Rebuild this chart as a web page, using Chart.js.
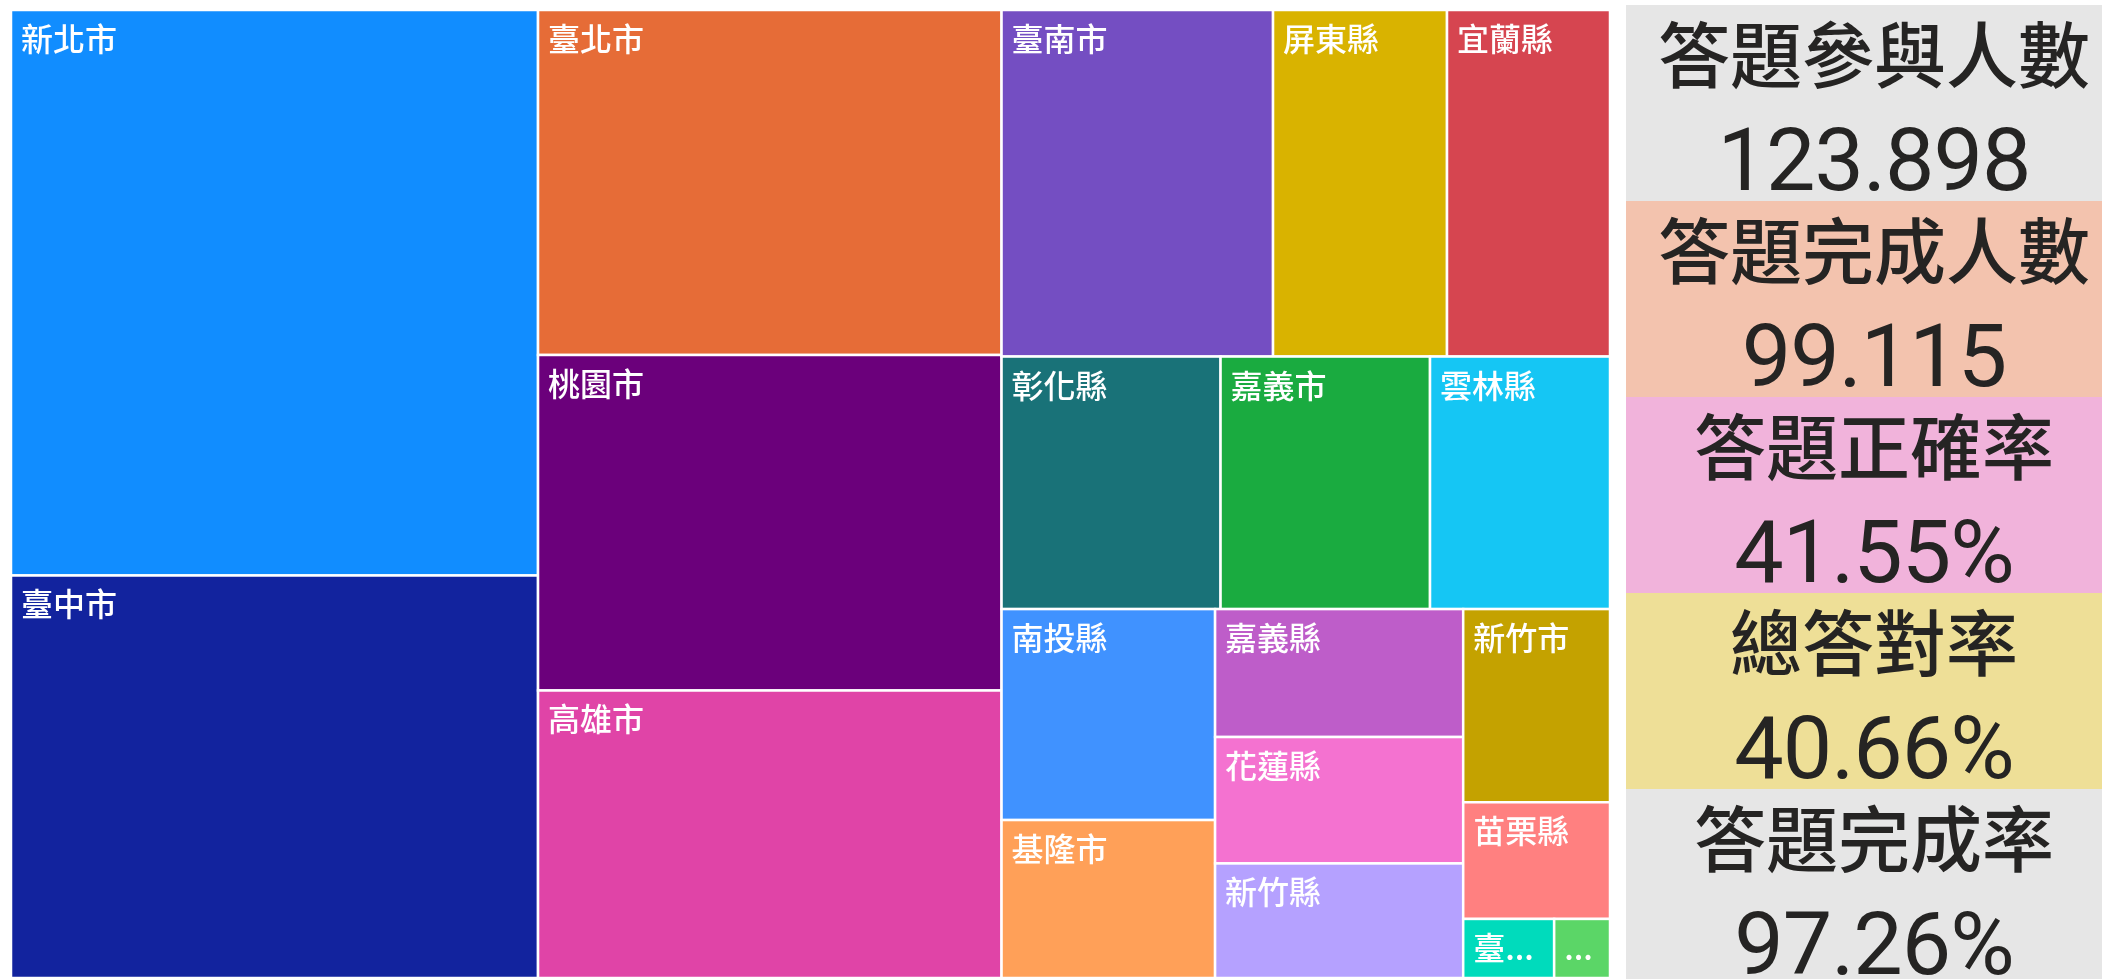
<!DOCTYPE html>
<html>
<head>
<meta charset="utf-8">
<script src="https://cdn.jsdelivr.net/npm/chart.js@4.4.1/dist/chart.umd.min.js"></script>
<style>
  html, body { margin: 0; padding: 0; background: #fff; width: 2102px; height: 979px; overflow: hidden; }
  #treeBox { position: absolute; left: 0; top: 0; width: 1620px; height: 979px; }
  .card { position: absolute; left: 1626px; width: 496px; height: 196px; color: #252423; text-align: center; }
  .card .lbl { position: absolute; left: 0; right: 0; top: 10px; font: 500 72px "Noto Sans CJK TC"; line-height: 72px; white-space: nowrap; }
  .card .val { position: absolute; left: 0; right: 0; top: 111px; font: 88px Roboto; line-height: 88px; white-space: nowrap; letter-spacing: -1px; }
</style>
</head>
<body>
<div id="treeBox"><canvas id="treeChart"></canvas></div>
<div id="cards"></div>
<script>
// treemap data: participants per county/city
const counties = ['新北市', '臺中市', '臺北市', '桃園市', '高雄市', '臺南市', '屏東縣', '宜蘭縣', '彰化縣', '嘉義市',
                  '雲林縣', '南投縣', '基隆市', '嘉義縣', '花蓮縣', '新竹縣', '新竹市', '苗栗縣', '臺東縣', '澎湖縣'];
const participants = [23856, 16980, 12800, 12448, 10667, 7531, 4826, 4521, 4427, 4234,
                      3638, 3606, 2700, 2541, 2511, 2275, 2270, 1371, 430, 264];

// KPI cards
const kpiLabels = ['答題參與人數', '答題完成人數', '答題正確率', '總答對率', '答題完成率'];
const kpiValues = ['123.898', '99.115', '41.55%', '40.66%', '97.26%'];

const palette = ['#118DFF', '#12239E', '#E66C37', '#6B007B', '#E044A7', '#744EC2', '#D9B300', '#D64550', '#197278', '#1AAB40',
                 '#15C6F4', '#4092FF', '#FFA058', '#BE5DC9', '#F472D0', '#B5A1FF', '#C4A200', '#FF8080', '#00DBBC', '#5BD667'];
const cardColors = ['#E6E6E6', '#F3C3AE', '#F1B3DB', '#EEDF97', '#E6E6E6'];

// squarified layout (golden ratio), same idea as d3.treemapSquarify
function squarify(values, w, h) {
    const ratio = (1 + Math.sqrt(5)) / 2;
    const out = [];
    let x0 = 0, y0 = 0, x1 = w, y1 = h;
    let total = values.reduce((a, b) => a + b, 0);
    let i0 = 0, i1 = 0;
    const n = values.length;
    while (i0 < n) {
        const dx = x1 - x0, dy = y1 - y0;
        let sum = values[i1++];
        let minV = sum, maxV = sum;
        const alpha = Math.max(dy / dx, dx / dy) / (total * ratio);
        let beta = sum * sum * alpha;
        let minRatio = Math.max(maxV / beta, beta / minV);
        for (; i1 < n; i1++) {
            const v = values[i1];
            sum += v;
            if (v < minV) minV = v;
            if (v > maxV) maxV = v;
            beta = sum * sum * alpha;
            const newRatio = Math.max(maxV / beta, beta / minV);
            if (newRatio > minRatio) { sum -= v; break; }
            minRatio = newRatio;
        }
        if (dx < dy) {
            const yy = y0 + dy * sum / total;
            let xx = x0;
            for (let i = i0; i < i1; i++) {
                const cw = dx * values[i] / sum;
                out[i] = { x0: xx, y0: y0, x1: xx + cw, y1: yy };
                xx += cw;
            }
            y0 = yy;
        } else {
            const xx = x0 + dx * sum / total;
            let yy = y0;
            for (let i = i0; i < i1; i++) {
                const ch = dy * values[i] / sum;
                out[i] = { x0: x0, y0: yy, x1: xx, y1: yy + ch };
                yy += ch;
            }
            x0 = xx;
        }
        total -= sum;
        i0 = i1;
    }
    return out;
}

function fitLabel(ctx, text, maxW) {
    if (ctx.measureText(text).width <= maxW) return text;
    for (let k = text.length - 1; k >= 0; k--) {
        const t = text.slice(0, k) + '...';
        if (ctx.measureText(t).width <= maxW) return t;
    }
    return '';
}

const treemapPlugin = {
    id: 'treemapCells',
    afterDatasetsDraw(chart) {
        const { ctx, chartArea, scales } = chart;
        const w = chartArea.right - chartArea.left;
        const h = chartArea.bottom - chartArea.top;
        const cells = squarify(participants, w, h);
        ctx.save();
        cells.forEach((c, i) => {
            const left = scales.x.getPixelForValue(c.x0 / w);
            const right = scales.x.getPixelForValue(c.x1 / w);
            const top = scales.y.getPixelForValue(c.y0 / h);
            const bottom = scales.y.getPixelForValue(c.y1 / h);
            ctx.fillStyle = palette[i];
            ctx.fillRect(left, top, right - left, bottom - top);
            ctx.strokeStyle = '#fff';
            ctx.lineWidth = 2.5;
            ctx.strokeRect(left, top, right - left, bottom - top);

            ctx.font = '500 32px "Noto Sans CJK TC"';
            ctx.fillStyle = '#fff';
            ctx.textBaseline = 'alphabetic';
            ctx.textAlign = 'left';
            const label = fitLabel(ctx, counties[i], right - left - 20);
            ctx.fillText(label, left + 10, top + 41);
        });
        ctx.restore();
    }
};

new Chart(document.getElementById('treeChart'), {
    type: 'scatter',
    data: {
        labels: counties,
        datasets: [{ label: '答題參與人數', data: [] }]
    },
    options: {
        responsive: true,
        maintainAspectRatio: false,
        animation: false,
        layout: { padding: { left: 11, top: 10, right: 10, bottom: 1 } },
        scales: {
            x: { type: 'linear', min: 0, max: 1, display: false },
            y: { type: 'linear', min: 0, max: 1, reverse: true, display: false }
        },
        plugins: { legend: { display: false }, tooltip: { enabled: false } }
    },
    plugins: [treemapPlugin]
});

const cardsBox = document.getElementById('cards');
kpiLabels.forEach((lbl, i) => {
    const card = document.createElement('div');
    card.className = 'card';
    card.style.top = (5 + i * 196) + 'px';
    card.style.background = cardColors[i];
    card.innerHTML = `<div class="lbl">${lbl}</div><div class="val">${kpiValues[i]}</div>`;
    cardsBox.appendChild(card);
});
</script>
</body>
</html>
